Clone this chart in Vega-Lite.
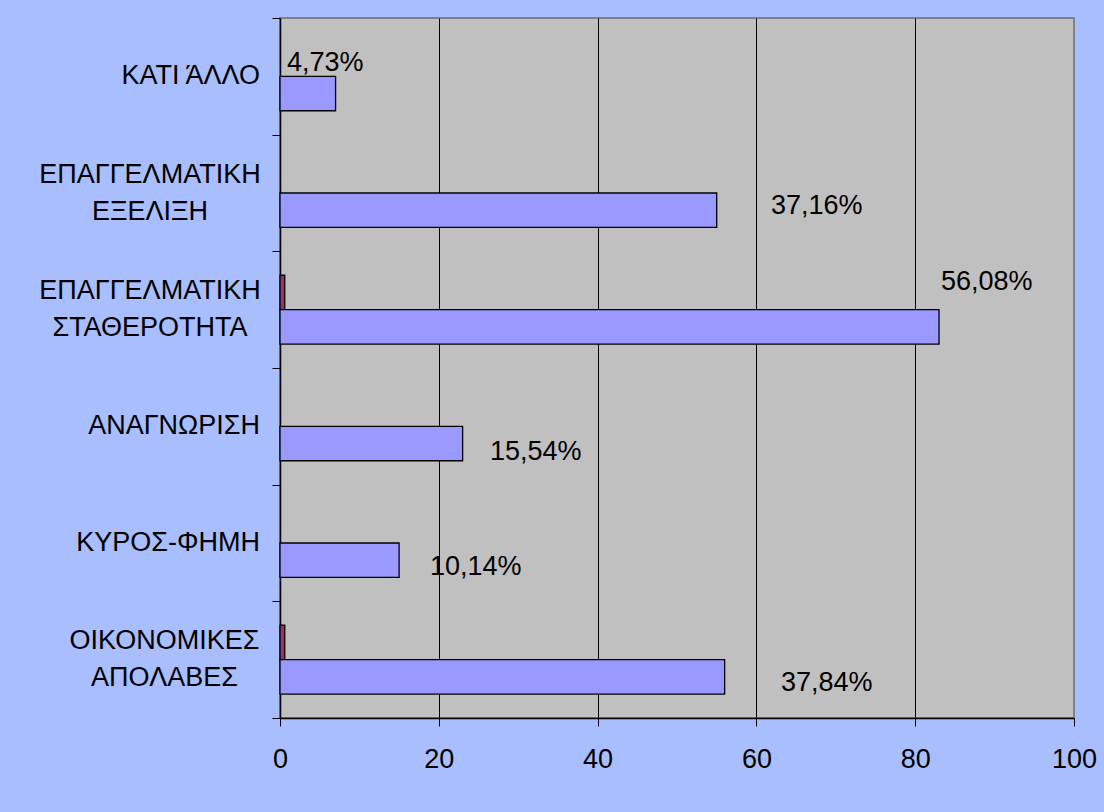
{
  "$schema": "https://vega.github.io/schema/vega-lite/v6.json",
  "width": 794,
  "height": 700,
  "autosize": {"type": "none"},
  "padding": {"left": 280, "top": 18, "right": 30, "bottom": 94},
  "background": "#A8BEFF",
  "config": {
    "font": "Liberation Sans",
    "locale": {
      "number": {"decimal": ",", "thousands": ".", "grouping": [3], "currency": ["", " €"]}
    },
    "view": {"fill": "#C0C0C0", "stroke": "#808080", "strokeWidth": 2}
  },
  "data": {
    "values": [
      {"motive": "ΚΑΤΙ ΆΛΛΟ", "series": "Σειρά2", "count": 7, "share": 0.0473},
      {"motive": "ΕΠΑΓΓΕΛΜΑΤΙΚΗ|ΕΞΕΛΙΞΗ", "series": "Σειρά2", "count": 55, "share": 0.3716},
      {"motive": "ΕΠΑΓΓΕΛΜΑΤΙΚΗ|ΣΤΑΘΕΡΟΤΗΤΑ", "series": "Σειρά1", "count": 0.6},
      {"motive": "ΕΠΑΓΓΕΛΜΑΤΙΚΗ|ΣΤΑΘΕΡΟΤΗΤΑ", "series": "Σειρά2", "count": 83, "share": 0.5608},
      {"motive": "ΑΝΑΓΝΩΡΙΣΗ", "series": "Σειρά2", "count": 23, "share": 0.1554},
      {"motive": "ΚΥΡΟΣ-ΦΗΜΗ", "series": "Σειρά2", "count": 15, "share": 0.1014},
      {"motive": "ΟΙΚΟΝΟΜΙΚΕΣ|ΑΠΟΛΑΒΕΣ", "series": "Σειρά1", "count": 0.6},
      {"motive": "ΟΙΚΟΝΟΜΙΚΕΣ|ΑΠΟΛΑΒΕΣ", "series": "Σειρά2", "count": 56, "share": 0.3784}
    ]
  },
  "encoding": {
    "y": {
      "field": "motive",
      "type": "nominal",
      "scale": {
        "domain": [
          "ΚΑΤΙ ΆΛΛΟ",
          "ΕΠΑΓΓΕΛΜΑΤΙΚΗ|ΕΞΕΛΙΞΗ",
          "ΕΠΑΓΓΕΛΜΑΤΙΚΗ|ΣΤΑΘΕΡΟΤΗΤΑ",
          "ΑΝΑΓΝΩΡΙΣΗ",
          "ΚΥΡΟΣ-ΦΗΜΗ",
          "ΟΙΚΟΝΟΜΙΚΕΣ|ΑΠΟΛΑΒΕΣ"
        ],
        "paddingInner": 0,
        "paddingOuter": 0
      },
      "axis": {
        "title": null,
        "grid": false,
        "labels": false,
        "tickSize": 8,
        "tickColor": "black",
        "tickBand": "extent",
        "domainColor": "black",
        "domainWidth": 1.5
      }
    },
    "x": {
      "field": "count",
      "type": "quantitative",
      "scale": {"domain": [0, 100], "nice": false},
      "axis": {
        "title": null,
        "values": [0, 20, 40, 60, 80, 100],
        "grid": true,
        "gridColor": "black",
        "gridWidth": 1,
        "gridOpacity": {"condition": {"test": "datum.value === 0 || datum.value === 100", "value": 0}, "value": 1},
        "tickSize": 8,
        "tickColor": "black",
        "domainColor": "black",
        "domainWidth": 1.5,
        "labelFontSize": 27,
        "labelColor": "black",
        "labelPadding": 20,
        "labelFlush": false,
        "labelOverlap": false
      }
    }
  },
  "layer": [
    {
      "mark": {"type": "bar", "stroke": "black", "strokeWidth": 1.3},
      "encoding": {
        "yOffset": {
          "field": "series",
          "scale": {"domain": ["Σειρά1", "Σειρά2"], "paddingInner": 0, "paddingOuter": 0.695}
        },
        "color": {
          "field": "series",
          "type": "nominal",
          "scale": {"domain": ["Σειρά1", "Σειρά2"], "range": ["#993366", "#9999FF"]},
          "legend": null
        }
      }
    },
    {
      "transform": [{"filter": {"and": [{"field": "series", "equal": "Σειρά2"}, {"field": "motive", "oneOf": ["ΚΑΤΙ ΆΛΛΟ", "ΑΝΑΓΝΩΡΙΣΗ", "ΚΥΡΟΣ-ΦΗΜΗ"]}]}}],
      "mark": {"type": "text", "align": "right", "baseline": "middle", "fontSize": 27, "color": "black", "dx": -20},
      "encoding": {"x": {"datum": 0}, "text": {"field": "motive"}}
    },
    {
      "transform": [{"filter": {"and": [{"field": "series", "equal": "Σειρά2"}, {"field": "motive", "oneOf": ["ΕΠΑΓΓΕΛΜΑΤΙΚΗ|ΕΞΕΛΙΞΗ", "ΕΠΑΓΓΕΛΜΑΤΙΚΗ|ΣΤΑΘΕΡΟΤΗΤΑ"]}]}}],
      "mark": {"type": "text", "align": "center", "baseline": "middle", "lineBreak": "|", "lineHeight": 37, "fontSize": 27, "color": "black", "dx": -130, "dy": -18.5},
      "encoding": {"x": {"datum": 0}, "text": {"field": "motive"}}
    },
    {
      "transform": [{"filter": {"and": [{"field": "series", "equal": "Σειρά2"}, {"field": "motive", "equal": "ΟΙΚΟΝΟΜΙΚΕΣ|ΑΠΟΛΑΒΕΣ"}]}}],
      "mark": {"type": "text", "align": "center", "baseline": "middle", "lineBreak": "|", "lineHeight": 37, "fontSize": 27, "color": "black", "dx": -115.5, "dy": -18.5},
      "encoding": {"x": {"datum": 0}, "text": {"field": "motive"}}
    },
    {
      "transform": [{"filter": {"and": [{"field": "series", "equal": "Σειρά2"}, {"field": "motive", "equal": "ΚΑΤΙ ΆΛΛΟ"}]}}],
      "mark": {"type": "text", "align": "left", "baseline": "alphabetic", "fontSize": 27, "color": "black", "dx": -48.6, "dy": -5.8},
      "encoding": {"text": {"field": "share", "type": "quantitative", "format": ".2%"}}
    },
    {
      "transform": [{"filter": {"and": [{"field": "series", "equal": "Σειρά2"}, {"field": "motive", "equal": "ΕΠΑΓΓΕΛΜΑΤΙΚΗ|ΕΞΕΛΙΞΗ"}]}}],
      "mark": {"type": "text", "align": "left", "baseline": "alphabetic", "fontSize": 27, "color": "black", "dx": 54.3, "dy": 20.5},
      "encoding": {"text": {"field": "share", "type": "quantitative", "format": ".2%"}}
    },
    {
      "transform": [{"filter": {"and": [{"field": "series", "equal": "Σειρά2"}, {"field": "motive", "equal": "ΕΠΑΓΓΕΛΜΑΤΙΚΗ|ΣΤΑΘΕΡΟΤΗΤΑ"}]}}],
      "mark": {"type": "text", "align": "left", "baseline": "alphabetic", "fontSize": 27, "color": "black", "dx": 2, "dy": -19.2},
      "encoding": {"text": {"field": "share", "type": "quantitative", "format": ".2%"}}
    },
    {
      "transform": [{"filter": {"and": [{"field": "series", "equal": "Σειρά2"}, {"field": "motive", "equal": "ΑΝΑΓΝΩΡΙΣΗ"}]}}],
      "mark": {"type": "text", "align": "left", "baseline": "alphabetic", "fontSize": 27, "color": "black", "dx": 27.4, "dy": 33.2},
      "encoding": {"text": {"field": "share", "type": "quantitative", "format": ".2%"}}
    },
    {
      "transform": [{"filter": {"and": [{"field": "series", "equal": "Σειρά2"}, {"field": "motive", "equal": "ΚΥΡΟΣ-ΦΗΜΗ"}]}}],
      "mark": {"type": "text", "align": "left", "baseline": "alphabetic", "fontSize": 27, "color": "black", "dx": 30.9, "dy": 31.5},
      "encoding": {"text": {"field": "share", "type": "quantitative", "format": ".2%"}}
    },
    {
      "transform": [{"filter": {"and": [{"field": "series", "equal": "Σειρά2"}, {"field": "motive", "equal": "ΟΙΚΟΝΟΜΙΚΕΣ|ΑΠΟΛΑΒΕΣ"}]}}],
      "mark": {"type": "text", "align": "left", "baseline": "alphabetic", "fontSize": 27, "color": "black", "dx": 56.4, "dy": 31.5},
      "encoding": {"text": {"field": "share", "type": "quantitative", "format": ".2%"}}
    }
  ]
}
